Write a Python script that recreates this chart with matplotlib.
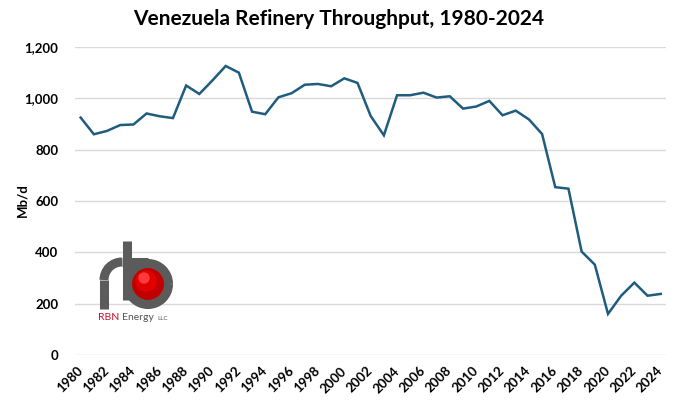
import matplotlib
matplotlib.use("Agg")
import matplotlib.pyplot as plt
from matplotlib.patches import Circle, Arc
from matplotlib.ticker import FuncFormatter
import numpy as np

years = list(range(1980, 2025))
throughput = [925, 860, 873, 896, 898, 941, 930, 923, 1050, 1017,
              1070, 1126, 1100, 948, 938, 1004, 1020, 1053, 1056, 1047,
              1078, 1060, 931, 856, 1012, 1012, 1022, 1003, 1008, 960,
              968, 990, 934, 952, 918, 861, 654, 648, 403, 352,
              160, 231, 282, 231, 238]
xtick_years = list(range(1980, 2025, 2))
yticks = [0, 200, 400, 600, 800, 1000, 1200]

plt.rcParams['font.family'] = ['Lato', 'DejaVu Sans']

fig = plt.figure(figsize=(6.8, 4.08), dpi=100)
ax = fig.add_axes([75/680, 1-355/408, 591/680, 308/408])

ax.plot(years, throughput, color='#1F5C7E', lw=1.8, solid_joinstyle='miter', zorder=3)
ax.set_xlim(1979.57, 2024.4)
ax.set_ylim(0, 1200)
ax.set_yticks(yticks)
ax.yaxis.set_major_formatter(FuncFormatter(lambda v, p: f"{int(v):,}"))
ax.set_xticks(xtick_years)
ax.set_xticklabels([str(y) for y in xtick_years], rotation=45, ha='right',
                   va='center', rotation_mode='anchor', fontsize=9.5, fontweight='bold')
for lbl in ax.get_yticklabels():
    lbl.set_fontweight('bold')
    lbl.set_fontsize(9.5)
ax.tick_params(axis='both', length=0)
ax.tick_params(axis='y', pad=12)
ax.tick_params(axis='x', pad=10)
ax.grid(axis='y', color='#D9D9D9', lw=1)
ax.set_axisbelow(True)
for s in ax.spines.values():
    s.set_visible(False)

fig.text(22/680, 1-200/408, 'Mb/d', rotation=90, ha='center', va='center',
         fontsize=9.5, fontweight='bold')

fig.text(339/680, 1-19/408, 'Venezuela Refinery Throughput, 1980-2024',
         ha='center', va='center', fontsize=15, fontweight='bold')

# logo overlay
ov = fig.add_axes([0, 0, 1, 1], zorder=5)
ov.set_xlim(0, 680)
ov.set_ylim(408, 0)
ov.axis('off')
ov.patch.set_alpha(0)
pipe = '#5B5B5B'
pw = 6.5
ov.add_patch(Circle((148, 284), 16, color='#C00000', zorder=1))
ov.add_patch(Circle((146, 281), 10, color='#E00000', zorder=2))
ov.add_patch(Circle((144, 278), 5, color='#FF3A3A', zorder=2))
ov.add_patch(Arc((148, 284), 41, 41, theta1=0, theta2=360, color=pipe, lw=pw, zorder=3))
ov.plot([127, 127], [241, 300], color=pipe, lw=pw, solid_capstyle='butt', zorder=4)
ov.plot([104, 104], [309, 280], color=pipe, lw=pw, solid_capstyle='butt', zorder=4)
ov.add_patch(Arc((122, 280), 36, 36, theta1=180, theta2=270, color=pipe, lw=pw, zorder=4))
ov.plot([122, 148], [262, 262], color=pipe, lw=pw, solid_capstyle='butt', zorder=3)
ov.text(98, 317, 'RBN', color='#C8102E', fontsize=7.5, ha='left', va='center')
ov.text(122, 317, 'Energy', color='#555555', fontsize=7.5, ha='left', va='center')
ov.text(157, 318, 'LLC', color='#555555', fontsize=4.5, ha='left', va='center')

fig.savefig('out.png', dpi=100)
